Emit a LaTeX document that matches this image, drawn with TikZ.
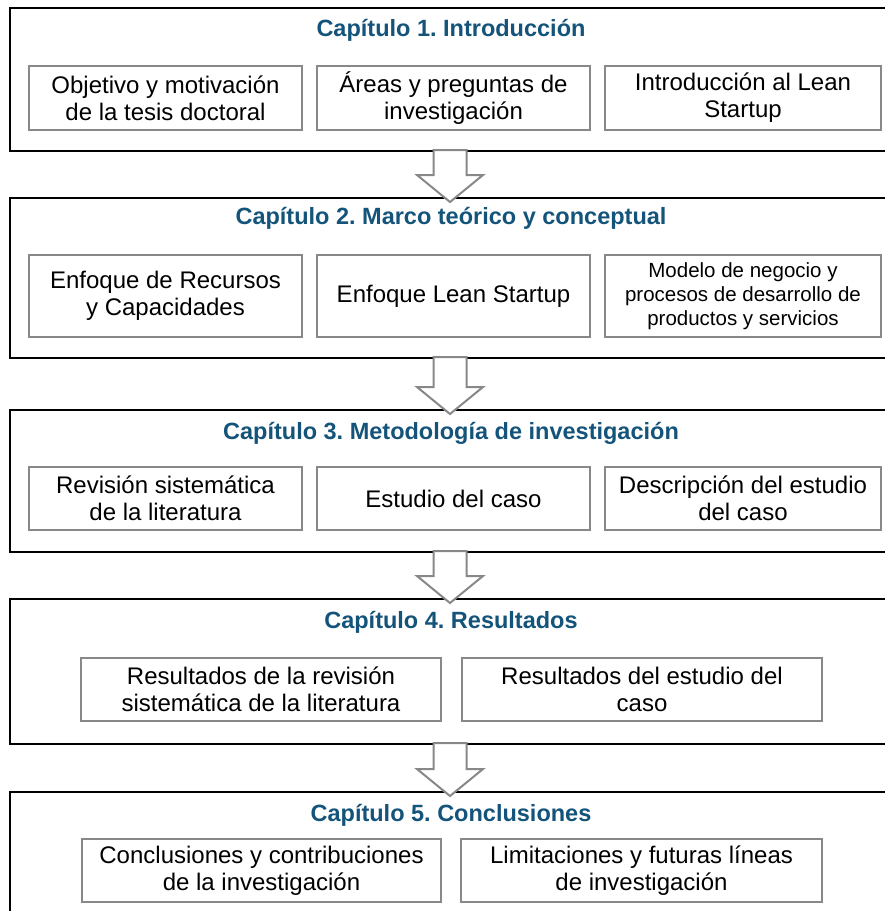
\documentclass[tikz,border=0pt]{standalone}
\usepackage{fontspec}
\setmainfont{Liberation Sans}
\frenchspacing
\usetikzlibrary{positioning,calc}
\definecolor{titazul}{RGB}{20,84,122}
\definecolor{grisbox}{RGB}{136,136,136}
\tikzstyle{capitulo}=[draw=black,line width=2pt,minimum width=880pt,inner sep=0pt]
\tikzstyle{titulo}=[font=\fontsize{23.5}{27}\selectfont\bfseries,text=titazul]
\tikzstyle{caja}=[draw=grisbox,line width=2pt,align=center,inner sep=0pt,
                 font=\fontsize{24}{27}\selectfont]
\tikzstyle{cajachica}=[caja,font=\fontsize{20.5}{24}\selectfont]
\tikzstyle{flecha}=[draw=grisbox,line width=2pt,fill=white,line join=miter]

\begin{document}
\begin{tikzpicture}[x=1pt,y=-1pt]
\useasboundingbox (0,0) rectangle (885,911);
\clip (0,0) rectangle (885,911);
% capitulos
\node[capitulo,minimum height=143pt] (cap1) at (450,79.5) {};
\node[capitulo,minimum height=160pt] (cap2) at (450,278) {};
\node[capitulo,minimum height=142pt] (cap3) at (450,481) {};
\node[capitulo,minimum height=145pt] (cap4) at (450,671.5) {};
\node[capitulo,minimum height=143pt] (cap5) at (450,863.5) {};
% titulos
\node[titulo] (tit1) at (451,30) {Capítulo 1. Introducción};
\node[titulo] (tit2) at (451,218) {Capítulo 2. Marco teórico y conceptual};
\node[titulo] (tit3) at (451,433) {Capítulo 3. Metodología de investigación};
\node[titulo] (tit4) at (451,622) {Capítulo 4. Resultados};
\node[titulo] (tit5) at (451,815) {Capítulo 5. Conclusiones};
% capitulo 1
\node[caja,minimum width=273pt,minimum height=64pt] (objetivo) at (165.5,98)
  {Objetivo y motivación\\de la tesis doctoral};
\node[caja,minimum width=273pt,minimum height=64pt] (areas) at (453.5,98)
  {Áreas y preguntas de\\investigación};
\node[caja,minimum width=276pt,minimum height=64pt] (intro) at (743,98)
  {Introducción al Lean\\Startup};
% capitulo 2
\node[caja,minimum width=273pt,minimum height=82pt] (recursos) at (165.5,296)
  {Enfoque de Recursos\\y Capacidades};
\node[caja,minimum width=273pt,minimum height=82pt] (lean) at (453.5,296)
  {Enfoque Lean Startup};
\node[cajachica,minimum width=276pt,minimum height=82pt] (modelo) at (743,296)
  {Modelo de negocio y\\procesos de desarrollo de\\productos y servicios};
% capitulo 3
\node[caja,minimum width=273pt,minimum height=63pt] (revision) at (165.5,498.5)
  {Revisión sistemática\\de la literatura};
\node[caja,minimum width=273pt,minimum height=63pt] (estudio) at (453.5,498.5)
  {Estudio del caso};
\node[caja,minimum width=276pt,minimum height=63pt] (descripcion) at (743,498.5)
  {Descripción del estudio\\del caso};
% capitulo 4
\node[caja,minimum width=360pt,minimum height=63pt] (resrev) at (261,689.5)
  {Resultados de la revisión\\sistemática de la literatura};
\node[caja,minimum width=360pt,minimum height=63pt] (resest) at (642,689.5)
  {Resultados del estudio del\\caso};
% capitulo 5
\node[caja,minimum width=359pt,minimum height=63pt] (conclus) at (261.5,870.5)
  {Conclusiones y contribuciones\\de la investigación};
\node[caja,minimum width=361pt,minimum height=63pt] (limites) at (641.5,870.5)
  {Limitaciones y futuras líneas\\de investigación};
% flechas
\foreach \a/\b in {cap1/cap2,cap2/cap3,cap3/cap4,cap4/cap5}
  \draw[flecha] ($(\a.south)+(-16.5,-2)$) -- ($(\b.north)+(-16.5,-22)$)
    -- ($(\b.north)+(-33,-22)$) -- ($(\b.north)+(0,5)$) -- ($(\b.north)+(33,-22)$)
    -- ($(\b.north)+(16.5,-22)$) -- ($(\a.south)+(16.5,-2)$) -- cycle;
\end{tikzpicture}
\end{document}
